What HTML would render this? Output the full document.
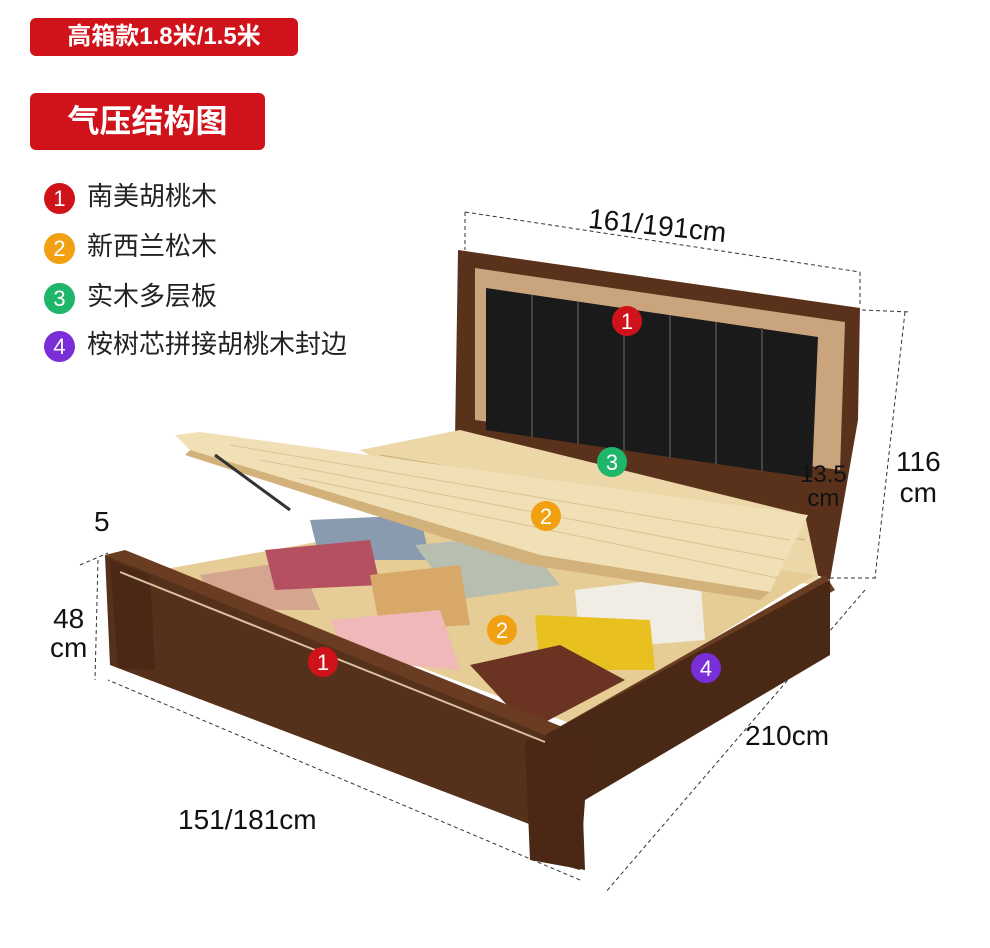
<!DOCTYPE html>
<html><head><meta charset="utf-8"><style>
body{margin:0;background:#fff;width:990px;height:948px;overflow:hidden;position:relative;font-family:"Liberation Sans","Noto Sans CJK SC",sans-serif}
.tag{position:absolute;background:#d0121a;color:#fff;font-weight:bold;border-radius:6px;text-align:center}
.lg{position:absolute;left:44px;font-size:26px;color:#222;height:34px;line-height:34px}
.lg span{display:inline-block;width:31px;height:31px;border-radius:50%;color:#fff;text-align:center;line-height:31px;font-size:22px;margin-right:12px;vertical-align:middle}
.t{position:absolute;font-size:28px;color:#111}
</style></head><body>
<div class="tag" style="left:30px;top:18px;width:268px;height:38px;line-height:38px;font-size:24px">高箱款1.8米/1.5米</div>
<div class="tag" style="left:30px;top:93px;width:235px;height:57px;line-height:57px;font-size:32px">气压结构图</div>
<div class="lg" style="top:179px"><span style="background:#d0121a">1</span>南美胡桃木</div>
<div class="lg" style="top:229px"><span style="background:#f0a010">2</span>新西兰松木</div>
<div class="lg" style="top:279px"><span style="background:#1fb56a">3</span>实木多层板</div>
<div class="lg" style="top:327px"><span style="background:#7a2ed8">4</span>桉树芯拼接胡桃木封边</div>
<svg width="990" height="948" style="position:absolute;left:0;top:0">
<g stroke="#333" stroke-dasharray="4,3" fill="none" stroke-width="1">
<line x1="465" y1="212" x2="860" y2="272"/><line x1="465" y1="212" x2="465" y2="250"/><line x1="860" y1="272" x2="860" y2="305"/>
<line x1="905" y1="312" x2="875" y2="578"/><line x1="862" y1="310" x2="910" y2="312"/><line x1="830" y1="578" x2="878" y2="578"/>
<line x1="865" y1="590" x2="605" y2="893"/><line x1="580" y1="880" x2="108" y2="680"/>
<line x1="98" y1="560" x2="95" y2="680"/><line x1="80" y1="565" x2="108" y2="553"/>
<line x1="828" y1="425" x2="828" y2="472"/>
</g>
<polygon points="458,250 860,308 858,420 830,580 455,440" fill="#5a321c"/>
<polygon points="475,268 845,322 840,470 475,420" fill="#c9a47c"/>
<polygon points="486,288 818,337 812,478 486,430" fill="#1a1a1a"/>
<g stroke="#444" stroke-width="2">
<line x1="532" y1="295" x2="532" y2="437"/><line x1="578" y1="302" x2="578" y2="444"/><line x1="624" y1="308" x2="624" y2="451"/><line x1="670" y1="315" x2="670" y2="458"/><line x1="716" y1="322" x2="716" y2="464"/><line x1="762" y1="328" x2="762" y2="471"/>
</g>
<polygon points="360,450 460,430 805,515 820,585 560,560" fill="#ecd7a8"/>
<g stroke="#c9ac78" stroke-width="1"><line x1="380" y1="455" x2="800" y2="525"/><line x1="390" y1="465" x2="805" y2="540"/></g>
<polygon points="160,570 440,520 815,575 575,725" fill="#e6cc95"/>
<polygon points="200,575 300,560 320,610 220,610" fill="#d4a58f"/>
<polygon points="310,520 420,515 430,560 320,560" fill="#8a9bb0"/>
<polygon points="265,550 370,540 380,585 275,590" fill="#b55060"/>
<polygon points="415,545 520,535 560,585 455,600" fill="#b8bfb0"/>
<polygon points="370,575 460,565 470,625 380,630" fill="#d8a868"/>
<polygon points="330,620 440,610 460,670 350,660" fill="#f0b8b8"/>
<polygon points="575,590 700,575 705,640 580,650" fill="#f2ede4"/>
<polygon points="535,615 650,620 655,670 540,670" fill="#e8c020"/>
<polygon points="470,665 560,645 625,680 530,730" fill="#6a3322"/>
<polygon points="175,435 200,432 808,515 770,592 540,555 190,450" fill="#f1dfb6"/>
<g stroke="#dcc493" stroke-width="1"><line x1="230" y1="445" x2="790" y2="540"/><line x1="260" y1="460" x2="785" y2="560"/><line x1="300" y1="478" x2="778" y2="578"/></g>
<polygon points="190,450 540,555 770,592 760,600 530,565 185,455" fill="#d2b27a"/>
<line x1="215" y1="455" x2="290" y2="510" stroke="#333" stroke-width="3"/>
<polygon points="105,555 125,550 570,730 545,740" fill="#6a3d22"/>
<polygon points="545,735 825,575 835,590 575,740" fill="#6a3d22"/>
<polygon points="105,555 545,735 545,830 110,665" fill="#55301a"/>
<polygon points="545,735 830,580 830,655 585,800 580,870 545,860" fill="#4a2816"/>
<polygon points="110,560 150,575 155,670 118,668" fill="#4a2815"/>
<polygon points="525,740 580,735 585,870 530,860" fill="#4a2815"/>
<line x1="120" y1="572" x2="545" y2="742" stroke="#d8c0a0" stroke-width="2"/>
<g fill="#fff" font-size="22" text-anchor="middle" font-family="Liberation Sans">
<circle cx="627" cy="321" r="15" fill="#d0121a"/><text x="627" y="329">1</text>
<circle cx="612" cy="462" r="15" fill="#1fb56a"/><text x="612" y="470">3</text>
<circle cx="546" cy="516" r="15" fill="#f0a010"/><text x="546" y="524">2</text>
<circle cx="502" cy="630" r="15" fill="#f0a010"/><text x="502" y="638">2</text>
<circle cx="323" cy="662" r="15" fill="#d0121a"/><text x="323" y="670">1</text>
<circle cx="706" cy="668" r="15" fill="#7a2ed8"/><text x="706" y="676">4</text>
</g>
</svg>
<div class="t" style="left:588px;top:210px;transform:rotate(6deg)">161/191cm</div>
<div class="t" style="left:896px;top:446px;line-height:31px;text-align:center">116<br>cm</div>
<div class="t" style="left:800px;top:463px;font-size:24px;line-height:24px;text-align:center">13.5<br>cm</div>
<div class="t" style="left:94px;top:506px">5</div>
<div class="t" style="left:50px;top:604px;line-height:29px;text-align:center">48<br>cm</div>
<div class="t" style="left:745px;top:720px">210cm</div>
<div class="t" style="left:178px;top:804px">151/181cm</div>
</body></html>
